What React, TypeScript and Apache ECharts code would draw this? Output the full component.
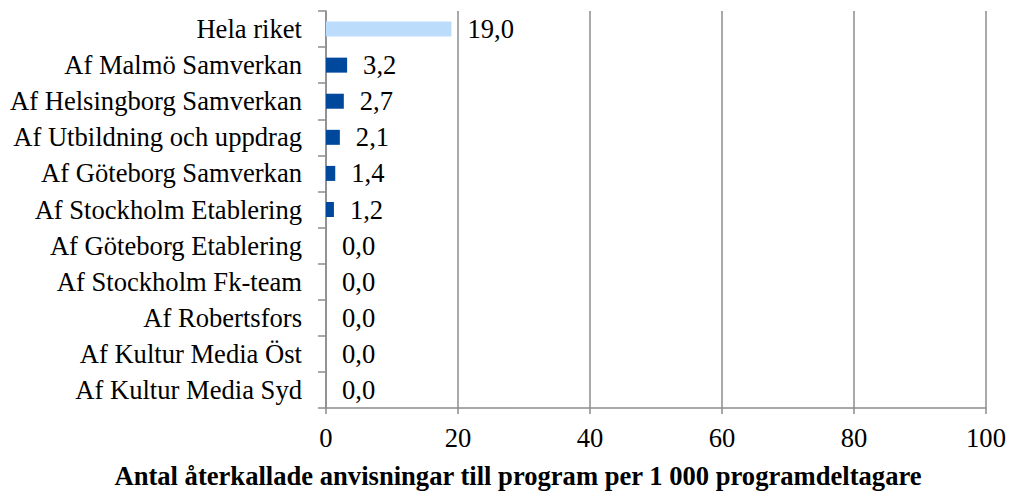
import React, { useEffect, useRef } from "react";
import * as echarts from "echarts";

const categories = [
  "Hela riket",
  "Af Malmö Samverkan",
  "Af Helsingborg Samverkan",
  "Af Utbildning och uppdrag",
  "Af Göteborg Samverkan",
  "Af Stockholm Etablering",
  "Af Göteborg Etablering",
  "Af Stockholm Fk-team",
  "Af Robertsfors",
  "Af Kultur Media Öst",
  "Af Kultur Media Syd",
];
const values = [19.0, 3.2, 2.7, 2.1, 1.4, 1.2, 0.0, 0.0, 0.0, 0.0, 0.0];
const highlighted = ["Hela riket"];
const xTicks = [0, 20, 40, 60, 80, 100];
const axisTitle = "Antal återkallade anvisningar till program per 1 000 programdeltagare";

const FONT = "'Liberation Serif', 'Times New Roman', serif";
const FS = 26.6;

export default function App() {
  const ref = useRef<HTMLDivElement>(null);
  useEffect(() => {
    if (!ref.current) return;
    const chart = echarts.init(ref.current, undefined, { renderer: "svg" });
    chart.setOption({
      animation: false,
      grid: { left: 326, right: 23, top: 11, bottom: 89, containLabel: false, outerBoundsMode: "none" },
      graphic: [
        {
          type: "text",
          x: 518,
          y: 476,
          style: {
            text: axisTitle,
            fill: "#000",
            font: `bold ${FS}px ${FONT}`,
            textAlign: "center",
            textVerticalAlign: "middle",
          },
        },
      ],
      xAxis: {
        type: "value",
        min: xTicks[0],
        max: xTicks[xTicks.length - 1],
        interval: 20,
        axisLine: { show: true, lineStyle: { color: "#8c8c8c", width: 1.5 } },
        axisTick: { show: true, length: 6, lineStyle: { color: "#8c8c8c", width: 1.5 } },
        splitLine: { show: true, lineStyle: { color: "#8c8c8c", width: 1.5 } },
        axisLabel: { color: "#000", fontFamily: FONT, fontSize: FS, margin: 16 },
      },
      yAxis: {
        type: "category",
        data: categories,
        inverse: true,
        axisLine: { show: true, lineStyle: { color: "#8c8c8c", width: 1.5 } },
        axisTick: { show: true, length: 8, lineStyle: { color: "#8c8c8c", width: 1.5 } },
        axisLabel: { color: "#000", fontFamily: FONT, fontSize: FS, margin: 24 },
      },
      series: [
        {
          type: "bar",
          barWidth: 15,
          data: values.map((v, i) => ({
            value: v,
            itemStyle: { color: highlighted.includes(categories[i]) ? "#bcdcfb" : "#00489b" },
          })),
          label: {
            show: true,
            position: "right",
            distance: 16,
            color: "#000",
            fontFamily: FONT,
            fontSize: FS,
            formatter: (p: any) => Number(p.value).toFixed(1).replace(".", ","),
          },
        },
      ],
    });
    return () => chart.dispose();
  }, []);
  return <div ref={ref} style={{ width: 1009, height: 497, position: "absolute", left: 0, top: 0 }} />;
}
